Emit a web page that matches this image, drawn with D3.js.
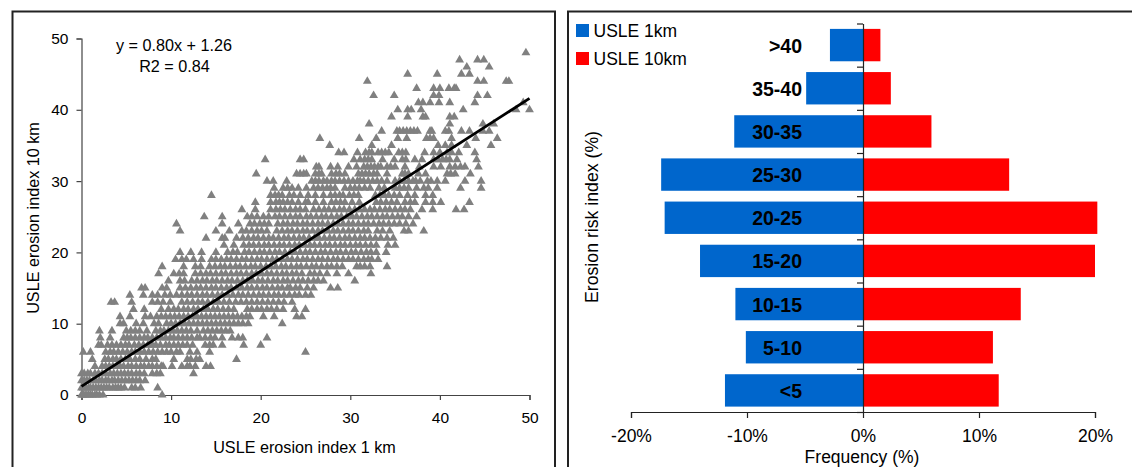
<!DOCTYPE html>
<html>
<head>
<meta charset="utf-8">
<script src="https://cdn.jsdelivr.net/npm/d3@7"></script>
<style>
  html, body { margin: 0; padding: 0; background: #fff; }
  svg { display: block; }
  text { font-family: "Liberation Sans", Arial, sans-serif; fill: #000; }
</style>
</head>
<body>
<div id="chart"></div>
<script>
// scatter: values, the index is rounded to whole numbers on y so one list of x per row
var rowsX = [
  [0,.1,.2,.4,.6,.8,1,1.2,1.5,1.7,2,2.4,9],
  [0,.2,.5,.8,1,1.3,1.6,1.9,2.2,2.5,2.8,3.1,3.5,3.8,4.1,4.4,4.8,5.6,6,6.6,8.5],
  [0,.3,.6,.9,1.3,1.6,2,2.3,2.7,3,3.4,3.7,4.1,4.5,4.9,5.3,5.7,6.1,6.5,7.1],
  [0,.3,.7,1,1.5,1.9,2.3,2.7,3.2,3.6,4,4.4,4.8,5.2,5.6,6.1,6.5,7,7.9,8.4,8.8,12.5],
  [1.5,2.3,2.7,3.1,3.5,3.9,4.3,4.7,5.2,5.6,6.1,6.6,7,7.5,7.9,8.4,8.9,9.1,10.1,11.2,11.8,12.1,12.7,13.9,14.4],
  [1.2,2.6,3,3.5,3.9,4.4,4.9,5.4,6,6.5,7.2,7.9,8.3,10.3,11.8,12.2,12.8,13.2,17.3],
  [.2,1,2.7,3.2,3.6,4.1,4.6,5.1,5.6,6,6.5,7,7.5,8,8.5,9,9.5,10,10.6,11,12.1,12.9,14.3,25],
  [1.9,2.2,2.9,3.4,3.9,4.4,4.9,5.3,5.9,6.4,6.9,7.4,7.9,8.3,8.8,9.4,9.8,10.3,10.8,11.3,11.8,12.4,13.8,14.3,14.7,15.7,18.1,20],
  [2.1,3.2,4.7,5.1,5.5,6,6.5,7,7.4,7.9,8.4,8.9,9.4,9.9,10.3,10.8,11.3,11.8,12.3,12.9,13.2,13.8,14.4,14.9,15.7,16.8,17.5,18,20.7],
  [2,3.4,5,5.5,6,6.5,7.3,8.3,8.8,9.2,9.7,10.2,10.7,11.2,11.7,12.2,12.9,13.6,14.1,14.6,15.1,15.6,16.1,16.6],
  [4.3,4.7,6.1,6.9,8.1,8.6,9.5,10,10.5,11,11.5,12,12.5,13,13.5,14,14.5,15,15.5,16,16.5,17,17.5,18,18.6,22.4],
  [4.3,5.4,7.1,7.7,8.4,8.9,9.4,9.9,10.4,10.9,11.4,11.9,12.4,12.9,13.4,13.9,14.4,14.9,15.4,15.9,16.4,16.9,17.4,17.9,18.4,18.8,20.3,21.5,24,24.6],
  [5.8,7,8.9,9.7,10.3,10.8,11.4,11.9,12.5,13,13.6,14.1,14.7,15.2,15.8,16.4,17,18.5,19,19.6,20.1,20.7,21.2,21.8,22.5,23.8,25],
  [3.3,3.7,5.6,7.9,8.5,9.1,9.9,11.2,11.8,12.4,13,13.5,14.1,14.7,15.3,15.9,16.5,17.2,17.8,18.4,19,19.6,20.2,20.8,21.4,22,22.6,23.5],
  [5.4,6.9,7.9,8.5,9.3,9.9,10.6,11.2,11.8,12.3,12.9,13.5,14,14.6,15.2,15.7,16.3,16.9,17.5,18,18.6,19.2,19.8,20.3,20.9,21.5,22,22.6,23.2,23.8,24.3,25,25.6],
  [6.7,7.1,9,9.5,11,11.6,12.2,12.8,13.3,13.9,14.5,15,15.6,16.2,16.7,17.3,17.9,18.5,19,19.6,20.2,20.7,21.3,21.9,22.4,23,23.3,23.9,24.4,25.2,25.9,27.8,28.6],
  [9.7,11,11.5,12.3,12.9,13.5,14,14.6,15.1,15.7,16.3,16.8,17.4,18,18.5,19.1,19.7,20.2,20.8,21.4,21.9,22.5,23,23.6,24.2,24.7,25.3,25.9,26.4,27,30.5],
  [8.6,10.3,10.9,11.4,12.7,13.3,13.9,14.4,15,15.6,16.1,16.7,17.3,17.8,18.4,19,19.5,20.1,20.7,21.2,21.8,22.4,22.9,23.5,24,24.6,25.5,26,26.6,27.4,28.5,29.8,32.3],
  [9,11.4,12.7,13.3,14.3,14.9,15.5,16,16.6,17.2,17.7,18.3,18.9,19.4,20,20.6,21.1,21.7,22.3,22.8,23.4,24,24.5,25.1,25.7,26.2,26.8,27.4,27.9,28.5,29.1,30.7,31.1,31.6,32.2,34.1],
  [10.5,11.2,11.7,12.5,13.4,14.5,15,15.6,16.2,16.7,17.3,17.9,18.4,19,19.6,20.1,20.7,21.3,21.8,22.4,23,23.5,24.1,24.7,25.2,25.8,26.4,26.9,27.5,28.1,28.6,29.2,29.8,30.3,30.9,31.5,32,32.4,33.1],
  [11,12.2,13.4,15,16.3,16.9,17.4,18.2,18.7,19.3,19.9,20.4,21,21.6,22.1,22.7,23.3,23.8,24.4,25,25.5,26.1,26.7,27.2,27.8,28.4,28.9,29.5,30.1,30.6,31.2,31.8,32.3,32.9,34],
  [15.9,17,18.1,18.7,19.2,19.8,20.4,20.9,21.5,22.1,22.6,23.2,23.8,24.3,24.9,25.5,26,26.6,27.2,27.7,28.3,28.9,29.4,30,30.6,31.1,31.7,32.3,32.9,34.2,35],
  [13.9,15.7,16,17.3,18,18.6,19.2,19.7,20.3,20.9,21.4,22,22.6,23.1,23.7,24.3,24.8,25.4,26,26.5,27.1,27.7,28.2,28.8,29.4,29.9,30.5,31.1,31.6,32.2,32.8,33.4,34.1,34.8],
  [11,15,16.5,17.9,18.4,19,19.6,20.1,20.7,21.8,22.4,23,23.5,24.1,24.7,25.2,25.8,26.4,26.9,27.5,28.1,28.6,29.2,29.8,30.3,30.9,31.5,32,33,33.6,34.4,36,36.5,38.2],
  [10.6,15.7,17.5,18.8,19.3,19.9,20.4,20.9,21.9,22.5,23,23.6,24.1,24.7,25.2,25.8,26.4,26.9,27.5,28.1,28.6,29.2,29.8,30.3,30.9,31.5,32,32.6,33.2,33.7,34.3,34.9,35.5,36.2,37],
  [13.7,15.7,18.5,19,19.6,20.3,20.9,21.6,22.1,22.7,23.3,23.9,24.4,25.1,25.6,26.2,26.8,27.3,27.9,28.5,29,29.6,30.2,30.7,31.3,31.9,32.4,33,33.6,34.1,34.7,35.3,35.8,36.5,37.4],
  [17.9,19.4,21.1,21.7,22.2,22.7,23.3,23.9,24.4,25,25.9,26.5,27.1,27.6,28.2,28.8,29.3,29.9,30.5,31,31.6,32.2,32.7,33.3,33.9,34.4,35,35.6,36.1,36.7,38,39.2,41.8,42.7],
  [19.4,21.1,21.7,22.1,22.5,23,23.5,24.2,25,25.3,26.1,27,27.9,28.4,28.9,29.4,30.2,31,32.9,33.4,34,34.6,35.2,36.1,36.7,37.2,38.4,39.2,40.1,43.3],
  [14.5,21.1,21.6,22,22.4,23.2,23.7,24.4,25.3,26.1,27,27.8,28.3,28.8,29.2,29.9,30.4,30.9,32.8,33.3,33.8,34.3,34.9,35.5,36.4,37.2,38.4,39.2],
  [21.5,22.5,23,23.5,24.2,25.1,25.9,26.4,26.9,27.4,27.8,28.3,29.4,30,30.5,31,31.6,32.2,33.2,33.8,35,35.5,36,36.5,37.4,38.2,38.7,39.7,42.3,44.6],
  [20.7,21.4,22.9,25.7,26.1,26.5,27,27.4,27.9,28.3,28.8,29.3,29.8,30.3,30.8,31.1,31.5,32,32.5,33,33.5,34.1,35,35.5,36,36.5,37,37.3,37.8,38.6,39,39.7,40.6,42.8,44.6],
  [19.5,24,24.4,24.8,25.1,26.1,26.5,26.8,27.9,28.4,28.8,29.4,30.9,31.3,31.7,32.1,32.6,33,34.1,35.8,36.1,36.5,37.6,38.4,40.8,41.2,41.7,43.4],
  [26.2,26.5,27.8,28.6,29.8,30.7,31.5,31.9,32.3,32.7,33.1,33.4,34.1,34.5,35,36.1,37.7,39.3,40.1,41.1,41.7,42.3,42.8,44.3],
  [20.5,24.4,24.8,30.4,31.1,31.6,32,32.4,33.6,34.9,35.8,36.2,37.2,38,39.3,39.8,40.3,40.7,41.1,41.9,44.1],
  [28.7,29.3,30.8,31.7,32.1,32.4,33.1,33.5,33.9,34.3,35.4,35.8,36.2,38.3,39.3,40,40.8,41.3,42.1,43.9],
  [27.7,32.4,34.6,39.8,40.6,41.3,43,45.7],
  [26.6,31,32.9,35.3,36.3,38.5,38.9,39.3,41.3,44,46.4],
  [33.5,35.2,35.5,35.9,36.3,36.7,37.1,37.5,38.9,39.1,40.6,41,42.4,43.3,44.8,45.5],
  [32.1,41.1,44.8,46],
  [34.6,36.4,38.1,38.4,41.1,41.6],
  [35.3,36.4,36.8,37.9,42.6,48.5,50],
  [37.6,38.1,38.9,39.9,41.1,43.9,49.3],
  [32.6,34.9,39.3,39.9,44.2,45.3],
  [37.4,39.3,40,41,41.6,41.8],
  [31.9,44.2,44.9,47.4,47.7],
  [36.4,39.7,42.4,43.3],
  [43,45.5],
  [42.2,44.2,44.9],
  [49.6]
];
var fitX = [0, 50];
var fitY = [1.2, 41.6];
var scatterTicks = [0, 10, 20, 30, 40, 50];

// pyramid
var categories = [">40", "35-40", "30-35", "25-30", "20-25", "15-20", "10-15", "5-10", "<5"];
var usle1km = [2.85, 4.9, 11.1, 17.4, 17.1, 14.05, 11, 10.1, 11.9];
var usle10km = [1.5, 2.4, 5.9, 12.6, 20.2, 20, 13.6, 11.2, 11.7];
var freqTicks = [-20, -10, 0, 10, 20];

var svg = d3.select("#chart").append("svg")
    .attr("width", 1132)
    .attr("height", 467);

svg.append("rect").attr("width", 1132).attr("height", 467).attr("fill", "#fff");

// panel frames, open at the bottom like the original crop
svg.append("path")
    .attr("d", "M12.5,467V11.5H555V467")
    .attr("fill", "none").attr("stroke", "#222").attr("stroke-width", 2);
svg.append("path")
    .attr("d", "M568,467V11.5H1132")
    .attr("fill", "none").attr("stroke", "#222").attr("stroke-width", 2);

// ---- left chart
var x = d3.scaleLinear().domain([0, 50]).range([81.5, 529.5]);
var y = d3.scaleLinear().domain([0, 50]).range([395, 38.5]);

var xAxis = svg.append("g")
    .attr("transform", "translate(0,395)")
    .call(d3.axisBottom(x).tickValues(scatterTicks).tickSize(5).tickPadding(12));
var yAxis = svg.append("g")
    .attr("transform", "translate(81.5,0)")
    .call(d3.axisLeft(y).tickValues(scatterTicks).tickSize(5).tickPadding(8));

[xAxis, yAxis].forEach(function(a) {
  a.selectAll("path, line").attr("stroke", "#444").attr("stroke-width", 1.2);
  a.selectAll("text").style("font-size", "15.5px").style("font-family", "Liberation Sans");
});

var points = [];
rowsX.forEach(function(xs, i) {
  xs.forEach(function(v) { points.push([v, i]); });
});

var tri = d3.symbol().type(d3.symbolTriangle).size(34);
svg.append("g").selectAll("path")
    .data(points)
    .enter().append("path")
      .attr("d", tri)
      .attr("transform", function(d) { return "translate(" + x(d[0]) + "," + y(d[1]) + ")"; })
      .attr("fill", "#808080");

svg.append("line")
    .attr("x1", x(fitX[0])).attr("y1", y(fitY[0]))
    .attr("x2", x(fitX[1])).attr("y2", y(fitY[1]))
    .attr("stroke", "#000").attr("stroke-width", 2.8);

svg.append("text").attr("x", 174).attr("y", 51).attr("text-anchor", "middle")
    .style("font-size", "16.2px").text("y = 0.80x + 1.26");
svg.append("text").attr("x", 174.5).attr("y", 72).attr("text-anchor", "middle")
    .style("font-size", "16.2px").text("R2 = 0.84");

svg.append("text").attr("x", 304.5).attr("y", 453).attr("text-anchor", "middle")
    .style("font-size", "16.2px").text("USLE erosion index 1 km");
svg.append("text")
    .attr("transform", "translate(39,218) rotate(-90)")
    .attr("text-anchor", "middle")
    .style("font-size", "16.2px").text("USLE erosion index 10 km");

// ---- right chart
var fx = d3.scaleLinear().domain([-20, 20]).range([631, 1095]);
var fy = d3.scaleBand().domain(categories).range([23.5, 412]).paddingInner(0.25).paddingOuter(0.125);

svg.append("g").selectAll("rect")
    .data(categories)
    .enter().append("rect")
      .attr("x", function(d, i) { return fx(-usle1km[i]); })
      .attr("y", function(d) { return fy(d); })
      .attr("width", function(d, i) { return fx(0) - fx(-usle1km[i]); })
      .attr("height", fy.bandwidth())
      .attr("fill", "#0066CC");

svg.append("g").selectAll("rect")
    .data(categories)
    .enter().append("rect")
      .attr("x", fx(0))
      .attr("y", function(d) { return fy(d); })
      .attr("width", function(d, i) { return fx(usle10km[i]) - fx(0); })
      .attr("height", fy.bandwidth())
      .attr("fill", "#FF0000");

// x axis of the pyramid
var fxAxis = svg.append("g")
    .attr("transform", "translate(0,412)")
    .call(d3.axisBottom(fx).tickValues(freqTicks).tickFormat(function(d) { return d + "%"; }).tickSize(6).tickPadding(12));
fxAxis.selectAll("path, line").attr("stroke", "#222").attr("stroke-width", 1.2);
fxAxis.selectAll("text").style("font-size", "17.5px").style("font-family", "Liberation Sans");

// band edge ticks on the zero line, category names sit further left
var edges = d3.scaleLinear().domain([0, categories.length]).range([23.5, 412]);
var fyTicks = svg.append("g")
    .attr("transform", "translate(" + fx(0) + ",0)")
    .call(d3.axisLeft(edges).tickValues(d3.range(categories.length + 1)).tickFormat("").tickSize(6).tickSizeOuter(0));
fyTicks.selectAll("path, line").attr("stroke", "#222").attr("stroke-width", 1.2);

svg.append("g").selectAll("text")
    .data(categories)
    .enter().append("text")
      .attr("x", 802)
      .attr("y", function(d) { return fy(d) + fy.bandwidth() / 2 + 7.5; })
      .attr("text-anchor", "end")
      .style("font-size", "19.5px")
      .style("font-weight", "bold")
      .text(function(d) { return d; });

// legend
var legendNames = ["USLE 1km", "USLE 10km"];
var legendColors = ["#0066CC", "#FF0000"];
legendNames.forEach(function(name, i) {
  svg.append("rect").attr("x", 576).attr("y", 24 + i * 28).attr("width", 13).attr("height", 13).attr("fill", legendColors[i]);
  svg.append("text").attr("x", 593.5).attr("y", 36.5 + i * 28).style("font-size", "17.5px").text(name);
});

svg.append("text").attr("x", 862).attr("y", 463).attr("text-anchor", "middle")
    .style("font-size", "17.5px").text("Frequency (%)");
svg.append("text")
    .attr("transform", "translate(598,217) rotate(-90)")
    .attr("text-anchor", "middle")
    .style("font-size", "17.7px").text("Erosion risk index (%)");
</script>
</body>
</html>
